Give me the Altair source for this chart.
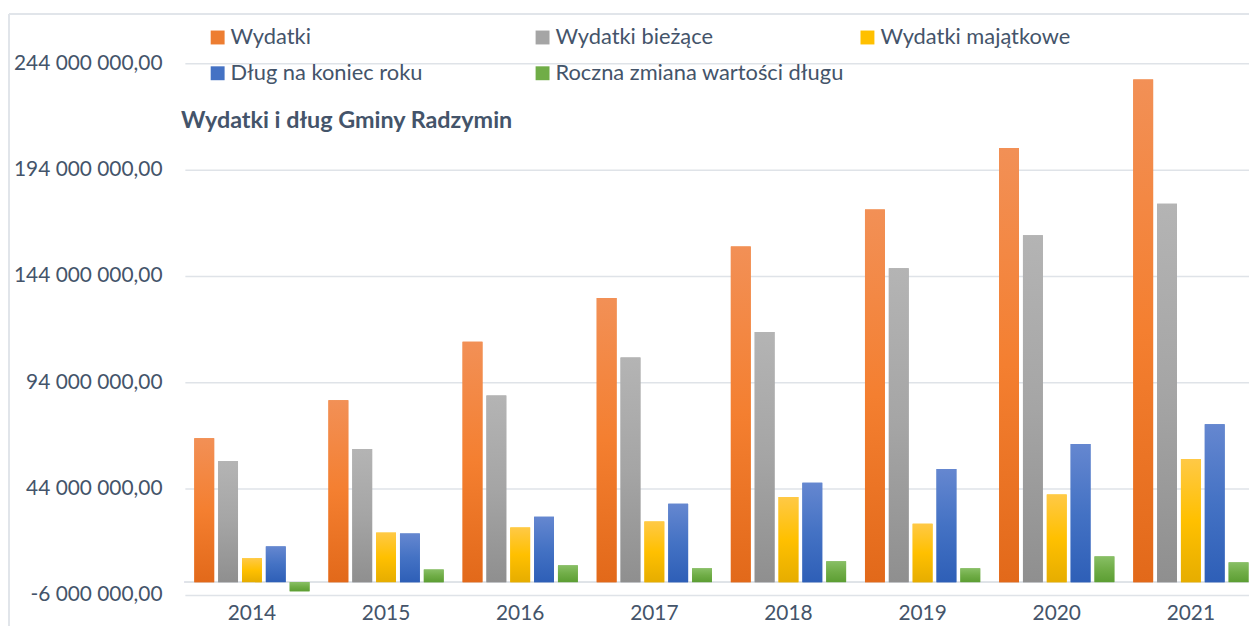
import altair as alt
import pandas as pd

years = ["2014", "2015", "2016", "2017", "2018", "2019", "2020", "2021"]
series = ["Wydatki", "Wydatki bieżące", "Wydatki majątkowe",
          "Dług na koniec roku", "Roczna zmiana wartości długu"]
wydatki = [67.7e6, 85.5e6, 113.0e6, 133.6e6, 157.9e6, 175.2e6, 204.2e6, 236.4e6]
biezace = [57.0e6, 62.6e6, 87.8e6, 105.6e6, 117.7e6, 147.6e6, 163.1e6, 178.0e6]
majatkowe = [11.2e6, 23.3e6, 25.7e6, 28.5e6, 40.1e6, 27.5e6, 41.2e6, 57.9e6]
dlug = [16.8e6, 22.9e6, 30.8e6, 36.9e6, 46.7e6, 53.2e6, 65.0e6, 74.2e6]
zmiana = [-4.3e6, 6.0e6, 7.9e6, 6.5e6, 9.8e6, 6.5e6, 12.1e6, 9.3e6]
y_ticks = [-6e6, 44e6, 94e6, 144e6, 194e6, 244e6]
title_text = "Wydatki i dług Gminy Radzymin"

solid = ["#ED7D31", "#A5A5A5", "#FFC000", "#4472C4", "#70AD47"]
grad_stops = [
    ["#F29056", "#F47F30", "#E2691A"],
    ["#B4B4B4", "#A5A5A5", "#8F8F8F"],
    ["#FFC946", "#FFC000", "#E6AD00"],
    ["#6587D0", "#4472C4", "#2E5FB7"],
    ["#88BF65", "#70AD47", "#5C9E33"],
]

rows = []
for s, vals in zip(series, [wydatki, biezace, majatkowe, dlug, zmiana]):
    for y, v in zip(years, vals):
        rows.append({"year": y, "series": s, "value": v})
df = pd.DataFrame(rows)

TXT = "#44546A"
GRID = "#DFE3E8"
FONT = "Lato"

x_enc = alt.X("year:N", sort=years, title=None,
              scale=alt.Scale(range=[0, 1080], paddingInner=0, paddingOuter=0),
              axis=alt.Axis(labelAngle=0, domain=False, ticks=False, grid=False,
                            labelFont=FONT, labelFontSize=21, labelColor=TXT,
                            labelPadding=8))
xoff_enc = alt.XOffset("series:N", sort=series,
                       scale=alt.Scale(domain=series, paddingInner=0.1667, paddingOuter=0.396))
y_enc = alt.Y("value:Q", title=None,
              scale=alt.Scale(domain=[y_ticks[0], y_ticks[-1]], nice=False, zero=False),
              axis=alt.Axis(values=y_ticks, domain=False, ticks=False, grid=True,
                            gridColor=GRID, gridWidth=1.5,
                            labelFont=FONT, labelFontSize=21, labelColor=TXT,
                            labelPadding=23,
                            labelExpr="replace(replace(replace(format(datum.value, ',.2f'), /,/g, ' '), '.', ','), '\u2212', '-')"))

base = alt.Chart(df).mark_bar().encode(
    x=x_enc, xOffset=xoff_enc, y=y_enc,
    color=alt.Color("series:N", sort=series,
                    scale=alt.Scale(domain=series, range=solid),
                    legend=alt.Legend(orient="none", legendX=22, legendY=-37,
                                      columns=3, direction="horizontal", title=None,
                                      symbolType="square", symbolSize=196,
                                      symbolStrokeWidth=0, labelFont=FONT,
                                      labelFontSize=22, labelColor=TXT, labelOffset=2,
                                      columnPadding=12, rowPadding=14, gridAlign="all",
                                      labelLimit=500, padding=0)),
)

layers = [base]
for s, stops in zip(series, grad_stops):
    grad = alt.LinearGradient(
        gradient="linear", x1=0, x2=0, y1=0, y2=1,
        stops=[alt.GradientStop(color=stops[0], offset=0),
               alt.GradientStop(color=stops[1], offset=0.5),
               alt.GradientStop(color=stops[2], offset=1)])
    layers.append(
        alt.Chart(df).transform_filter(alt.datum.series == s)
        .mark_bar(color=grad).encode(x=x_enc, xOffset=xoff_enc, y=y_enc)
    )

zero_rule = alt.Chart(df).mark_rule(color=GRID, strokeWidth=1.5).encode(y=alt.datum(0))
frame_left = alt.Chart(df).mark_rule(color="#E1E5EA", strokeWidth=2).encode(
    x=alt.value(-177), y=alt.value(-49.7), y2=alt.value(700))
frame_top = alt.Chart(df).mark_rule(color="#E1E5EA", strokeWidth=2).encode(
    x=alt.value(-177), x2=alt.value(1200), y=alt.value(-49.7))

chart = alt.layer(zero_rule, *layers, frame_left, frame_top).properties(
    width=1071, height=535,
    padding={"left": 178, "top": 53.7, "right": 0, "bottom": 29},
    autosize=alt.AutoSizeParams(type="none"),
    title=alt.TitleParams(title_text, anchor="start", frame="group", font=FONT,
                          fontSize=23.5, fontWeight="bold", color=TXT, dx=-4, dy=124),
    background="white",
).configure_view(stroke=None)

chart.save("out.html", embed_options={"renderer": "svg", "actions": False})
